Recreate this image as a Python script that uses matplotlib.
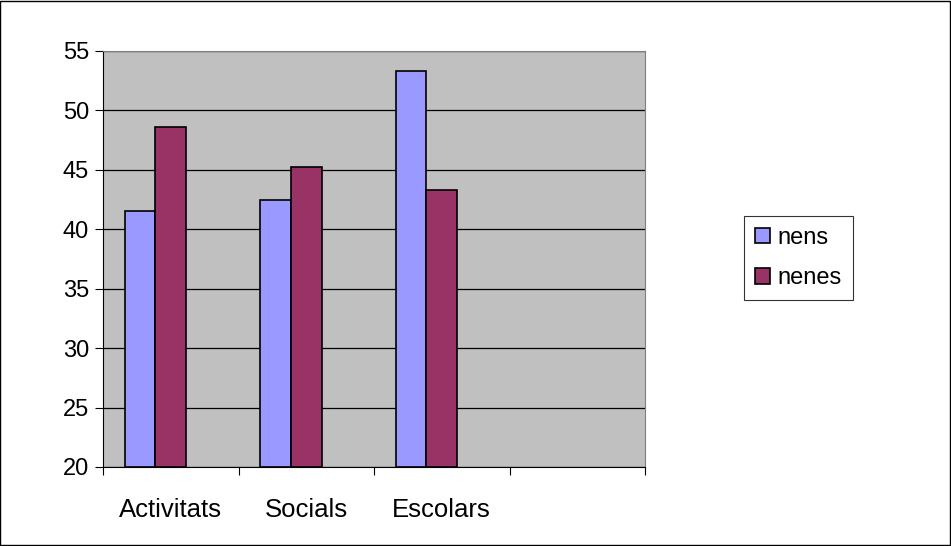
import numpy as np
import matplotlib
matplotlib.use("Agg")
import matplotlib.pyplot as plt
from matplotlib.patches import Rectangle

# Data
categories = ["Activitats", "Socials", "Escolars", ""]
nens = [41.5, 42.5, 53.3]
nenes = [48.6, 45.2, 43.3]
yticks = [20, 25, 30, 35, 40, 45, 50, 55]

plt.rcParams["font.family"] = ["Liberation Sans", "DejaVu Sans"]
fs = 17

fig = plt.figure(figsize=(9.51, 5.46), dpi=100)
ax = fig.add_axes([103 / 951, 79 / 546, 542 / 951, 416 / 546])

ax.set_facecolor("#C0C0C0")
w = 30.5 / 135
x = np.arange(len(nens))
ax.bar(x - w, np.array(nens) - 20, w, bottom=20, color="#9999FF",
       edgecolor="black", linewidth=1.2, label="nens", zorder=3)
ax.bar(x, np.array(nenes) - 20, w, bottom=20, color="#993366",
       edgecolor="black", linewidth=1.2, label="nenes", zorder=3)

ax.set_ylim(20, 55)
ax.set_xlim(-0.5, 3.5)
ax.set_yticks(yticks)
ax.set_yticklabels([str(t) for t in yticks], fontsize=fs)
ax.yaxis.grid(True, color="black", linewidth=0.9, zorder=1)
ax.set_axisbelow(True)

# category ticks at the boundaries, labels in the middle
ax.set_xticks(np.arange(-0.5, 4.0, 1.0))
ax.set_xticklabels([])
ax.set_xticks(np.arange(4), minor=True)
ax.set_xticklabels(categories, minor=True, fontsize=18.5)
ax.tick_params(axis="x", which="minor", length=0, pad=22)
ax.tick_params(axis="x", which="major", length=6, direction="out", width=0.8)
ax.tick_params(axis="y", length=6, direction="out", width=0.8, pad=4)

for s in ["top", "right"]:
    ax.spines[s].set_color("#808080")
for s in ["left", "bottom"]:
    ax.spines[s].set_color("black")

leg = fig.legend(loc="center", bbox_to_anchor=(798.5 / 951, 1 - 258 / 546),
                 fontsize=fs, frameon=True, fancybox=False, shadow=False,
                 handlelength=0.62, handleheight=0.62, handletextpad=0.35,
                 borderpad=0.45, labelspacing=0.8, borderaxespad=0)
leg.get_frame().set_edgecolor("black")
leg.get_frame().set_linewidth(0.8)

fig.patches.append(Rectangle((0.0005, 0.001), 0.998, 0.997, transform=fig.transFigure,
                             fill=False, edgecolor="black", linewidth=1))

fig.savefig("out.png", dpi=100)
